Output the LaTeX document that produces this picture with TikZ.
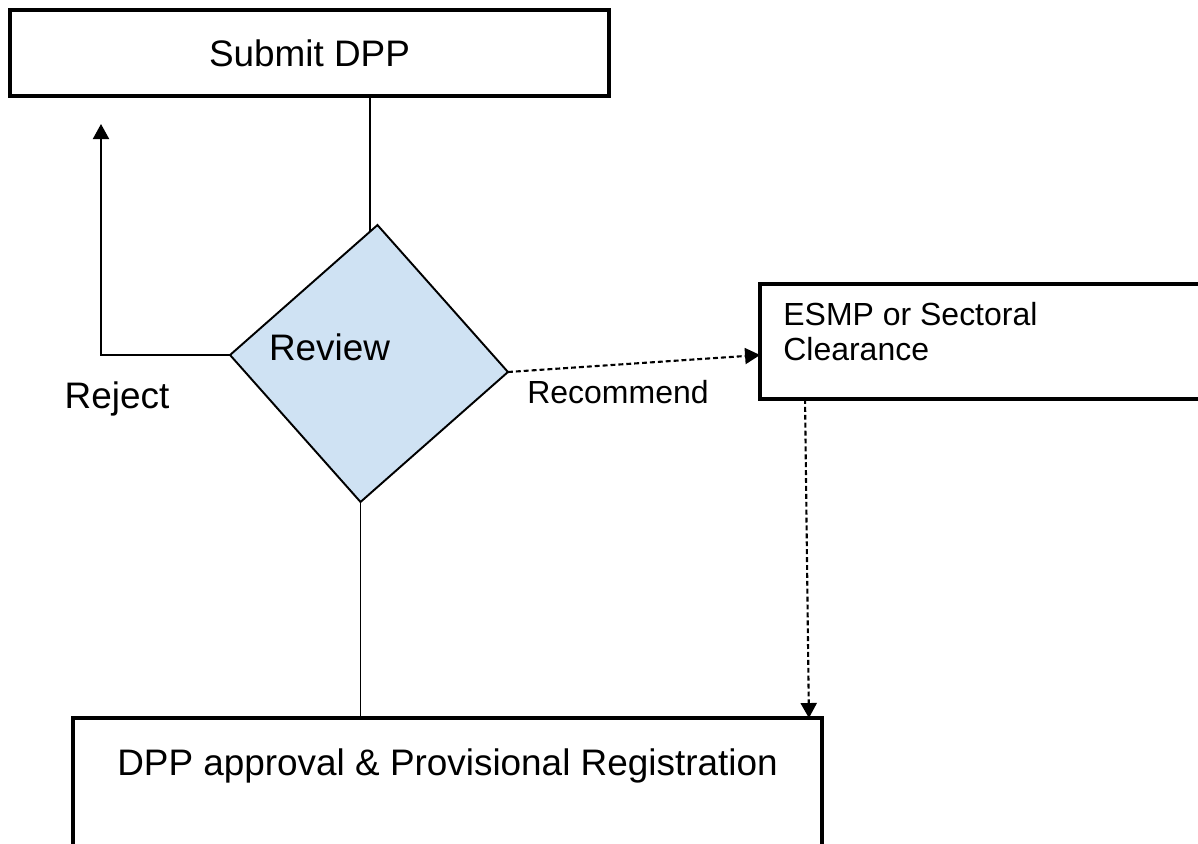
\documentclass[tikz,border=0pt]{standalone}
\usepackage{fontspec}
\setmainfont{Liberation Sans}
\usetikzlibrary{arrows.meta,shapes.geometric,calc,positioning}
\definecolor{reviewblue}{HTML}{CFE2F3}

\begin{document}
\begin{tikzpicture}[x=0.02cm,y=-0.02cm,
		box/.style={draw,line width=2.2pt,inner sep=0,outer sep=0},
		conn/.style={line width=1.1pt},
		dashconn/.style={line width=1.2pt,dash pattern=on 2.8pt off 1.7pt},
		tip/.style={-{Triangle[length=0.3cm,width=0.32cm]}},
		big/.style={font=\fontsize{21}{25}\selectfont},
		small/.style={font=\fontsize{18.2}{19.9}\selectfont}]
		\useasboundingbox (0,0) rectangle (1198,843);
		
		\node[box,big,minimum width=11.98cm,minimum height=1.72cm] (submit) at (309.5,53) {Submit DPP};
		\node[box,minimum width=9.1cm,minimum height=2.3cm] (esmp) at (987.5,341.5) {};
		\node[small,anchor=north west,inner sep=0,align=left] (esmptxt) at (783,302) {ESMP or Sectoral\\Clearance};
		\node[box,minimum width=14.98cm,minimum height=3.28cm] (approve) at (447.5,800) {};
		\node[big,anchor=base,inner sep=0] (approvetxt) at (447.5,775) {DPP approval \& Provisional Registration};
		
		\node[diamond,draw,line width=1.1pt,fill=reviewblue,rotate=-3.5,inner sep=0,outer sep=0,
			minimum width=5.57cm,minimum height=5.55cm] (review) at (369,363.5) {};
		\node[big,anchor=base,inner sep=0] (reviewtxt) at (329.5,360) {Review};
		
		\coordinate (rejtip) at (101,124);
		\node[big,anchor=base,inner sep=0] (reject) at (117,408) {Reject};
		\node[small,anchor=base,inner sep=0] (recommend) at (618,403) {Recommend};
		
		\draw[conn] (review.93) -- (review.93 |- submit.south);
		\draw[conn] (review.south) -- (review.south |- approve.north);
		\draw[conn,tip] (review.west) -| (rejtip);
		\draw[dashconn,tip] (review.east) -- ($(esmp.west)+(0,13.5)$);
		\draw[dashconn,tip] ($(esmp.south west)+(45,0)$) -- ($(approve.north east)+(-13,0)$);
\end{tikzpicture}
\end{document}
